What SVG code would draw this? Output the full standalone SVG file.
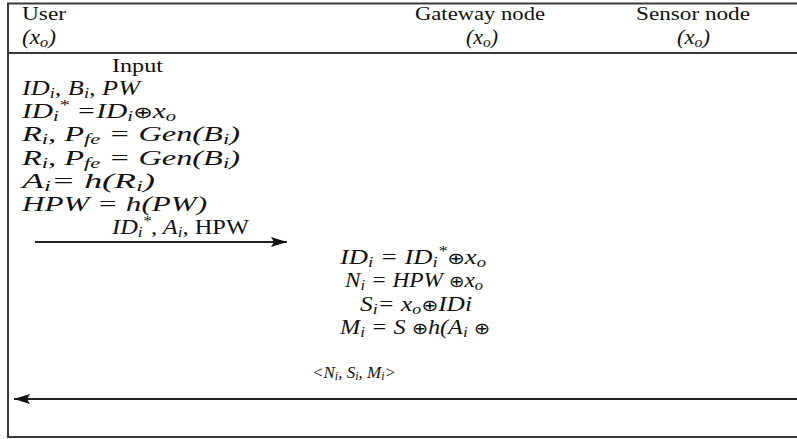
<svg xmlns="http://www.w3.org/2000/svg" width="797" height="439" viewBox="0 0 797 439">
  <style>
    text { font-family: "Liberation Serif", "Times New Roman", serif; fill: #111; }
    .h { font-size: 19px; }
    .m { font-size: 20px; font-style: italic; }
    .u { font-style: normal; }
    .s { font-size: 14px; }
    .x { font-family: "DejaVu Sans", sans-serif; font-size: 16px; }
    .sm { font-size: 17px; font-style: italic; }
    .sms { font-size: 12px; }
    .frame { stroke: #3a3a3a; stroke-width: 2; fill: none; }
    .msg { stroke: #222; stroke-width: 2; fill: none; }
  </style>
  <defs>
    <marker id="head" viewBox="0 0 16 10" refX="16" refY="5" markerWidth="16" markerHeight="10" markerUnits="userSpaceOnUse" orient="auto">
      <path d="M0,0 L16,5 L0,10 L3,5 Z" fill="#111"/>
    </marker>
  </defs>

  <!-- table frame -->
  <g id="frame">
    <line class="frame" x1="7" y1="3.5" x2="797" y2="3.5" stroke-width="2.5"/>
    <line class="frame" x1="8" y1="3" x2="8" y2="438"/>
    <line class="frame" x1="8" y1="53" x2="797" y2="53"/>
    <line class="frame" x1="8" y1="437" x2="797" y2="437"/>
  </g>

  <!-- participants -->
  <g id="user">
    <text class="h" x="22" y="20" textLength="44" lengthAdjust="spacingAndGlyphs">User</text>
    <text class="m" x="22" y="44" textLength="34" lengthAdjust="spacingAndGlyphs">(x<tspan class="s" dy="3">o</tspan><tspan dy="-3">)</tspan></text>
  </g>
  <g id="gateway">
    <text class="h" x="415" y="20" textLength="130" lengthAdjust="spacingAndGlyphs">Gateway node</text>
    <text class="m" x="466" y="44" textLength="32" lengthAdjust="spacingAndGlyphs">(x<tspan class="s" dy="3">o</tspan><tspan dy="-3">)</tspan></text>
  </g>
  <g id="sensor">
    <text class="h" x="636" y="20" textLength="114" lengthAdjust="spacingAndGlyphs">Sensor node</text>
    <text class="m" x="677" y="44" textLength="33" lengthAdjust="spacingAndGlyphs">(x<tspan class="s" dy="3">o</tspan><tspan dy="-3">)</tspan></text>
  </g>

  <!-- user side computations -->
  <g id="user-steps">
    <text class="h" x="112" y="72" textLength="51" lengthAdjust="spacingAndGlyphs">Input</text>
    <text class="m" x="22" y="95" textLength="118" lengthAdjust="spacingAndGlyphs">ID<tspan class="s" dy="3">i</tspan><tspan dy="-3">, B</tspan><tspan class="s" dy="3">i</tspan><tspan dy="-3">, PW</tspan></text>
    <text class="m" x="22" y="118" textLength="154" lengthAdjust="spacingAndGlyphs">ID<tspan class="s" dy="3">i</tspan><tspan class="s" dy="-11">*</tspan><tspan dy="8"> =ID</tspan><tspan class="s" dy="3">i</tspan><tspan class="x" dy="-3">⊕</tspan><tspan>x</tspan><tspan class="s" dy="3">o</tspan></text>
    <text class="m" x="22" y="141" textLength="218" lengthAdjust="spacingAndGlyphs">R<tspan class="s" dy="3">i</tspan><tspan dy="-3">, P</tspan><tspan class="s" dy="3">fe</tspan><tspan dy="-3"> = Gen(B</tspan><tspan class="s" dy="3">i</tspan><tspan dy="-3">)</tspan></text>
    <text class="m" x="22" y="165" textLength="218" lengthAdjust="spacingAndGlyphs">R<tspan class="s" dy="3">i</tspan><tspan dy="-3">, P</tspan><tspan class="s" dy="3">fe</tspan><tspan dy="-3"> = Gen(B</tspan><tspan class="s" dy="3">i</tspan><tspan dy="-3">)</tspan></text>
    <text class="m" x="22" y="188" textLength="133" lengthAdjust="spacingAndGlyphs">A<tspan class="s" dy="3">i</tspan><tspan dy="-3">= h(R</tspan><tspan class="s" dy="3">i</tspan><tspan dy="-3">)</tspan></text>
    <text class="m" x="22" y="211" textLength="185" lengthAdjust="spacingAndGlyphs">HPW = h(PW)</text>
  </g>

  <!-- gateway side computations -->
  <g id="gateway-steps">
    <text class="m" x="340" y="264" textLength="146" lengthAdjust="spacingAndGlyphs">ID<tspan class="s" dy="3">i</tspan><tspan dy="-3"> = ID</tspan><tspan class="s" dy="3">i</tspan><tspan class="s" dy="-11">*</tspan><tspan class="x" dy="8">⊕</tspan><tspan>x</tspan><tspan class="s" dy="3">o</tspan></text>
    <text class="m" x="345" y="287" textLength="138" lengthAdjust="spacingAndGlyphs">N<tspan class="s" dy="3">i</tspan><tspan dy="-3"> = HPW </tspan><tspan class="x">⊕</tspan><tspan>x</tspan><tspan class="s" dy="3">o</tspan></text>
    <text class="m" x="360" y="311" textLength="112" lengthAdjust="spacingAndGlyphs">S<tspan class="s" dy="3">i</tspan><tspan dy="-3">= x</tspan><tspan class="s" dy="3">o</tspan><tspan class="x" dy="-3">⊕</tspan><tspan>IDi</tspan></text>
    <text class="m" x="340" y="334" textLength="150" lengthAdjust="spacingAndGlyphs">M<tspan class="s" dy="3">i</tspan><tspan dy="-3"> = S </tspan><tspan class="x">⊕</tspan><tspan>h(A</tspan><tspan class="s" dy="3">i</tspan><tspan dy="-3"> </tspan><tspan class="x">⊕</tspan></text>
  </g>

  <!-- messages -->
  <g id="connectors">
    <line class="msg" x1="35" y1="242" x2="287" y2="242" marker-end="url(#head)"/>
    <text class="m" x="112" y="234" textLength="137" lengthAdjust="spacingAndGlyphs">ID<tspan class="s" dy="3">i</tspan><tspan class="s" dy="-11">*</tspan><tspan dy="8">, A</tspan><tspan class="s" dy="3">i</tspan><tspan dy="-3">, </tspan><tspan class="u">HPW</tspan></text>
    <line class="msg" x1="797" y1="399" x2="14" y2="399" marker-end="url(#head)"/>
    <text class="sm" x="312" y="378">&lt;N<tspan class="sms" dy="2">i</tspan><tspan dy="-2">, S</tspan><tspan class="sms" dy="2">i</tspan><tspan dy="-2">, M</tspan><tspan class="sms" dy="2">i</tspan><tspan dy="-2">&gt;</tspan></text>
  </g>
</svg>
